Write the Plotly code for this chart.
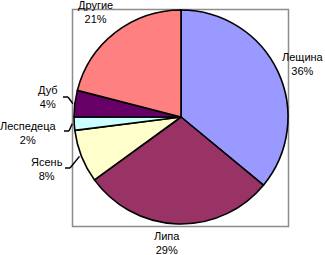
import math
import plotly.graph_objects as go

labels = ["Лещина", "Липа", "Ясень", "Леспедеца", "Дуб", "Другие"]
values = [36, 29, 8, 2, 4, 21]
colors = ["#9999FF", "#993366", "#FFFFCC", "#CCFFFF", "#660066", "#FF8080"]

W, H = 325, 255
CX, CY, R = 181, 117, 107

def px(x):
    return x / W

def py(y):
    return 1 - y / H

# label anchor positions (pixel centres of the two-line labels)
label_pos = {
    "Лещина": (303, 64),
    "Липа": (167, 243),
    "Ясень": (47, 169),
    "Леспедеца": (28, 133),
    "Дуб": (48, 97),
    "Другие": (95, 12),
}
leader_start = {
    "Ясень": (65, 168),
    "Леспедеца": (64, 131),
    "Дуб": (63, 97),
}

fig = go.Figure(go.Pie(
    labels=labels, values=values, sort=False, direction="clockwise", rotation=0,
    marker=dict(colors=colors, line=dict(color="black", width=1.6)),
    textinfo="none", hoverinfo="label+percent", showlegend=False,
    domain=dict(x=[px(CX - R), px(CX + R)], y=[py(CY + R), py(CY - R)]),
))

total = sum(values)
shapes = [dict(type="rect", xref="paper", yref="paper",
               x0=px(72.5), x1=px(288.5), y0=py(226.5), y1=py(9.5),
               line=dict(color="#8C8C8C", width=1.5), layer="below")]
annotations = []
cum = 0
for lab, v in zip(labels, values):
    mid = (cum + v / 2) / total * 2 * math.pi
    cum += v
    ex = CX + R * math.sin(mid)
    ey = CY - R * math.cos(mid)
    lx, ly = label_pos[lab]
    pct = round(v / total * 100)
    annotations.append(dict(x=px(lx), y=py(ly), xref="paper", yref="paper",
                            text=f"{lab}<br>{pct}%", showarrow=False,
                            xanchor="center", yanchor="middle",
                            font=dict(family="Liberation Sans, Arial", size=11, color="black")))
    if lab in leader_start:
        sx, sy = leader_start[lab]
        shapes.append(dict(type="line", xref="paper", yref="paper",
                           x0=px(sx), y0=py(sy), x1=px(sx + 5), y1=py(sy),
                           line=dict(color="black", width=1.5)))
        shapes.append(dict(type="line", xref="paper", yref="paper",
                           x0=px(sx + 5), y0=py(sy), x1=px(ex - 2), y1=py(ey),
                           line=dict(color="black", width=1.5)))

fig.update_layout(width=W, height=H, margin=dict(l=0, r=0, t=0, b=0),
                  paper_bgcolor="white", plot_bgcolor="white",
                  shapes=shapes, annotations=annotations)
fig.write_html("out.html")
